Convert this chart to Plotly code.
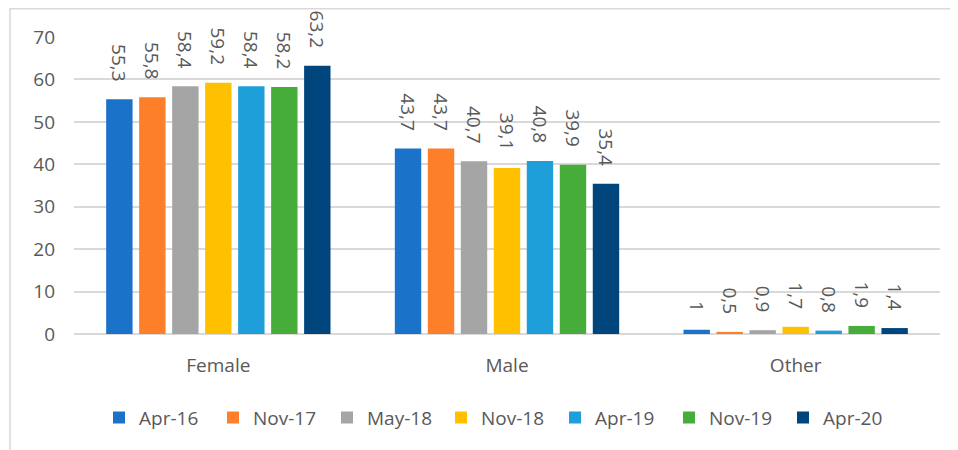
import plotly.graph_objects as go

categories = ["Female", "Male", "Other"]
series_names = ["Apr-16", "Nov-17", "May-18", "Nov-18", "Apr-19", "Nov-19", "Apr-20"]
apr16 = [55.3, 43.7, 1.0]
nov17 = [55.8, 43.7, 0.5]
may18 = [58.4, 40.7, 0.9]
nov18 = [59.2, 39.1, 1.7]
apr19 = [58.4, 40.8, 0.8]
nov19 = [58.2, 39.9, 1.9]
apr20 = [63.2, 35.4, 1.4]
series_values = [apr16, nov17, may18, nov18, apr19, nov19, apr20]
colors = ["#1B72C9", "#FD7F29", "#A5A5A5", "#FFC000", "#1E9FD9", "#46AD3B", "#00457C"]
y_ticks = [0, 10, 20, 30, 40, 50, 60, 70]

# page body has an 8px default margin, so the figure is drawn at (8, 8)
W, H = 950, 442
L, R, T, B = 66, 18, 29, 116
FONT = "Open Sans, Liberation Sans, sans-serif"
FS = 19
GREY = "#595959"

fig = go.Figure()
for name, vals, col in zip(series_names, series_values, colors):
    fig.add_trace(go.Bar(
        x=categories, y=vals, name=name, marker_color=col, marker_line_width=0,
        text=[f"{v:g}".replace(".", ",") + "\u00a0\u00a0\u00a0" for v in vals],
        textposition="outside", textangle=90, constraintext="none", cliponaxis=False,
        textfont=dict(family=FONT, size=FS, color=GREY),
    ))

pw = W - L - R
ph = H - T - B
x0 = (2 - L) / pw
x1 = (W + 20 - L) / pw
y1 = 1 + (T - 0.75) / ph
y0 = -(B + 20) / ph

fig.update_layout(
    width=W, height=H,
    margin=dict(l=L, r=R, t=T, b=B, autoexpand=False),
    paper_bgcolor="white", plot_bgcolor="white",
    barmode="group", bargap=0.2, bargroupgap=0.2,
    font=dict(family=FONT, size=FS, color=GREY),
    showlegend=True,
    legend=dict(orientation="h", x=25 / pw, xanchor="left", y=-0.218, yanchor="top",
                font=dict(family=FONT, size=FS, color=GREY), entrywidth=69,
                traceorder="normal"),
    xaxis=dict(showgrid=False, showline=False, ticks="", automargin=False,
               tickfont=dict(family=FONT, size=FS, color=GREY), ticklabelstandoff=18),
    yaxis=dict(range=[0, 70], tickvals=y_ticks, showgrid=True, gridcolor="#D9D9D9", gridwidth=1.5,
               zeroline=True, zerolinecolor="#D9D9D9", zerolinewidth=1.5, automargin=False,
               tickfont=dict(family=FONT, size=FS, color=GREY), ticklabelstandoff=18),
    shapes=[dict(type="rect", xref="paper", yref="paper", x0=x0, x1=x1, y0=y0, y1=y1,
                 line=dict(color="#D9D9D9", width=1.5), layer="below")],
)

fig.write_html("out.html")
